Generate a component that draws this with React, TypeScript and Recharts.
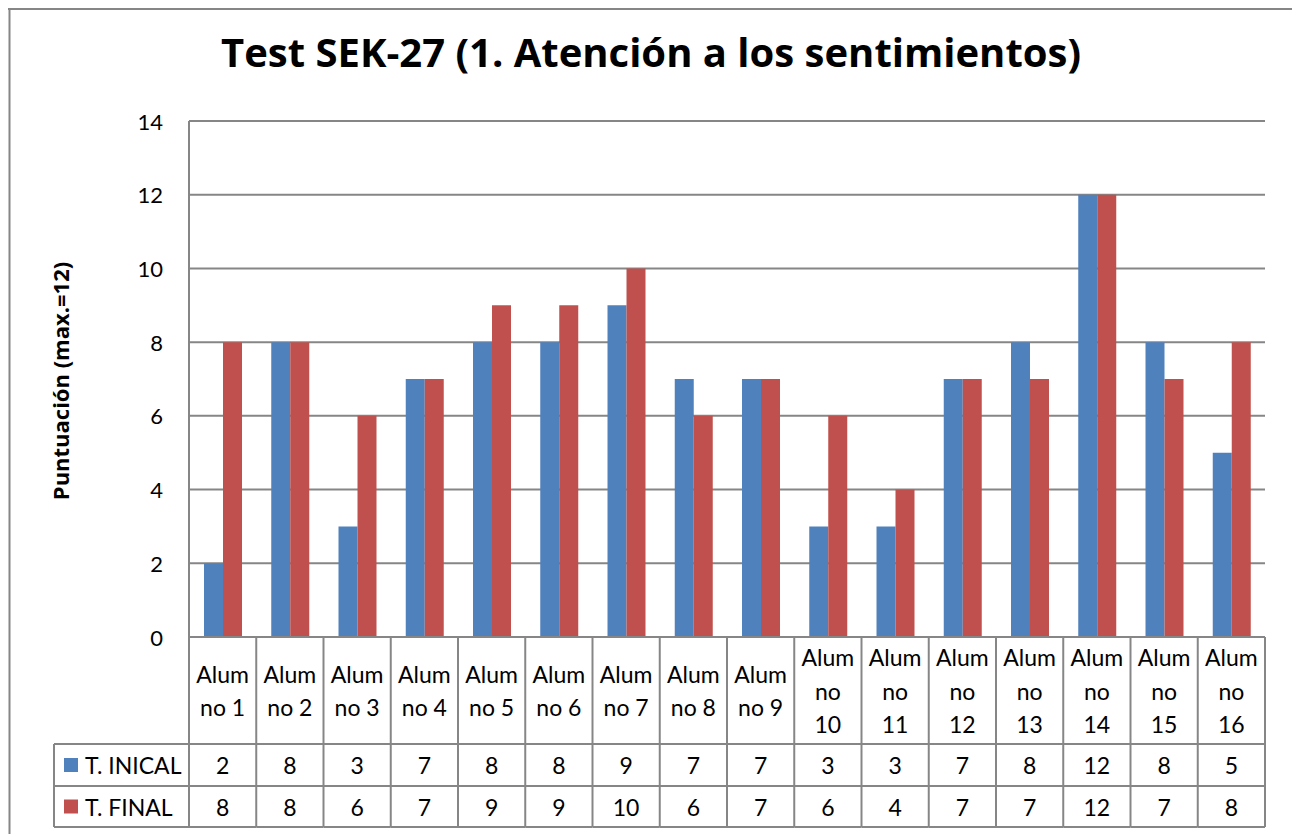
import React from "react";
import { BarChart, Bar, XAxis, YAxis, CartesianGrid, Customized } from "recharts";

const categories = [
  "Alumno 1", "Alumno 2", "Alumno 3", "Alumno 4", "Alumno 5", "Alumno 6", "Alumno 7", "Alumno 8",
  "Alumno 9", "Alumno 10", "Alumno 11", "Alumno 12", "Alumno 13", "Alumno 14", "Alumno 15", "Alumno 16",
];
const tInicial = [2, 8, 3, 7, 8, 8, 9, 7, 7, 3, 3, 7, 8, 12, 8, 5];
const tFinal = [8, 8, 6, 7, 9, 9, 10, 6, 7, 6, 4, 7, 7, 12, 7, 8];
const seriesNames = ["T. INICAL", "T. FINAL"];
const seriesColors = ["#4F81BD", "#C0504D"];
const yTicks = [0, 2, 4, 6, 8, 10, 12, 14];
const title = "Test SEK-27 (1. Atención a los sentimientos)";
const yLabel = "Puntuación (max.=12)";

const data = categories.map((c, i) => ({ name: c, a: tInicial[i], b: tFinal[i] }));

const W = 1284;
const H = 826;
const PLOT_L = 181;
const PLOT_R = 1257;
const PLOT_T = 113;
const PLOT_B = 629;
const XH = 191;
const BAND = (PLOT_R - PLOT_L) / categories.length;
const ROW1 = 736;
const ROW2 = 778;
const ROW3 = 819;
const LEG_L = 46;
const FONT = "Lato, 'Open Sans', sans-serif";
const BOLD_FONT = "'Open Sans', Lato, sans-serif";
const GRID = "#868686";
const TXT = 22;
const TABLE_TXT = 23;

function splitLabel(label: string): string[] {
  const first = label.slice(0, 4);
  const rest = label.slice(4);
  const parts = rest.split(" ");
  if (parts[1] && parts[1].length > 1) return [first, parts[0], parts[1]];
  return [first, rest];
}

function TableColumn(props: any) {
  const { x, payload } = props;
  const index = props.index ?? payload.index;
  const half = BAND / 2;
  const label = String(payload.value);
  const lines = splitLabel(label);
  const lineH = 33.5;
  const mid = (PLOT_B + ROW1) / 2;
  const startY = mid - ((lines.length - 1) * lineH) / 2;
  const vals = [tInicial[index], tFinal[index]];
  return (
    <g fontFamily={FONT} fontSize={TABLE_TXT} fill="#000">
      <line x1={x + half} x2={x + half} y1={PLOT_B} y2={ROW3} stroke={GRID} strokeWidth={2} />
      {index === 0 && (
        <g>
          <line x1={x - half} x2={x - half} y1={PLOT_B} y2={ROW3} stroke={GRID} strokeWidth={2} />
          <line x1={LEG_L} x2={x - half} y1={ROW1} y2={ROW1} stroke={GRID} strokeWidth={2} />
          <line x1={LEG_L} x2={x - half} y1={ROW2} y2={ROW2} stroke={GRID} strokeWidth={2} />
          <line x1={LEG_L} x2={x - half} y1={ROW3} y2={ROW3} stroke={GRID} strokeWidth={2} />
          <line x1={LEG_L} x2={LEG_L} y1={ROW1} y2={ROW3} stroke={GRID} strokeWidth={2} />
          {seriesNames.map((s, k) => {
            const cy = k === 0 ? (ROW1 + ROW2) / 2 : (ROW2 + ROW3) / 2;
            return (
              <g key={s}>
                <rect x={56} y={cy - 7} width={14} height={14} fill={seriesColors[k]} />
                <text x={77} y={cy} dominantBaseline="central" textAnchor="start" fill="#000">
                  {s}
                </text>
              </g>
            );
          })}
        </g>
      )}
      <line x1={x - half} x2={x + half} y1={ROW1} y2={ROW1} stroke={GRID} strokeWidth={2} />
      <line x1={x - half} x2={x + half} y1={ROW2} y2={ROW2} stroke={GRID} strokeWidth={2} />
      <line x1={x - half} x2={x + half} y1={ROW3} y2={ROW3} stroke={GRID} strokeWidth={2} />
      {lines.map((ln, k) => (
        <text key={k} x={x} y={startY + k * lineH} textAnchor="middle" dominantBaseline="central" fill="#000">
          {ln}
        </text>
      ))}
      <text x={x} y={(ROW1 + ROW2) / 2} textAnchor="middle" dominantBaseline="central" fill="#000">
        {vals[0]}
      </text>
      <text x={x} y={(ROW2 + ROW3) / 2} textAnchor="middle" dominantBaseline="central" fill="#000">
        {vals[1]}
      </text>
    </g>
  );
}

function YTick(props: any) {
  const { y, payload } = props;
  return (
    <text x={PLOT_L - 26} y={y} textAnchor="end" dominantBaseline="central" fontFamily={FONT} fontSize={TXT} fill="#000">
      {payload.value}
    </text>
  );
}

function Decor() {
  return (
    <g>
      <line x1={1.5} x2={1.5} y1={0} y2={H} stroke={GRID} strokeWidth={2} />
      <line x1={0} x2={W} y1={1} y2={1} stroke={GRID} strokeWidth={2} />
      <text
        x={643}
        y={59}
        textAnchor="middle"
        fontFamily={BOLD_FONT}
        fontWeight="bold"
        fontSize={40}
        fill="#000"
        style={{ fontVariantLigatures: "none" }}
      >
        {title}
      </text>
      <text
        x={52}
        y={373}
        transform="rotate(-90 52 373)"
        textAnchor="middle"
        dominantBaseline="central"
        fontFamily={BOLD_FONT}
        fontWeight="bold"
        fontSize={22}
        fill="#000"
      >
        {yLabel}
      </text>
    </g>
  );
}

export default function App() {
  return (
    <div style={{ position: "fixed", left: 8, top: 8, width: W, height: H, overflow: "hidden", background: "#fff" }}>
      <BarChart
        width={W}
        height={H}
        data={data}
        margin={{ top: PLOT_T, right: W - PLOT_R, left: 0, bottom: H - PLOT_B - XH }}
        barGap={0}
        barSize={19}
      >
        <CartesianGrid vertical={false} stroke={GRID} strokeWidth={2} strokeDasharray="" />
        <XAxis
          dataKey="name"
          height={XH}
          tickLine={false}
          tickSize={0}
          tickMargin={0}
          axisLine={{ stroke: GRID, strokeWidth: 2 }}
          tick={<TableColumn />}
          interval={0}
        />
        <YAxis
          width={PLOT_L}
          domain={[0, 14]}
          ticks={yTicks}
          tickLine={false}
          axisLine={{ stroke: GRID, strokeWidth: 2 }}
          tick={<YTick />}
          interval={0}
        />
        <Bar dataKey="a" name={seriesNames[0]} fill={seriesColors[0]} isAnimationActive={false} />
        <Bar dataKey="b" name={seriesNames[1]} fill={seriesColors[1]} isAnimationActive={false} />
        <Customized component={Decor} />
      </BarChart>
    </div>
  );
}
